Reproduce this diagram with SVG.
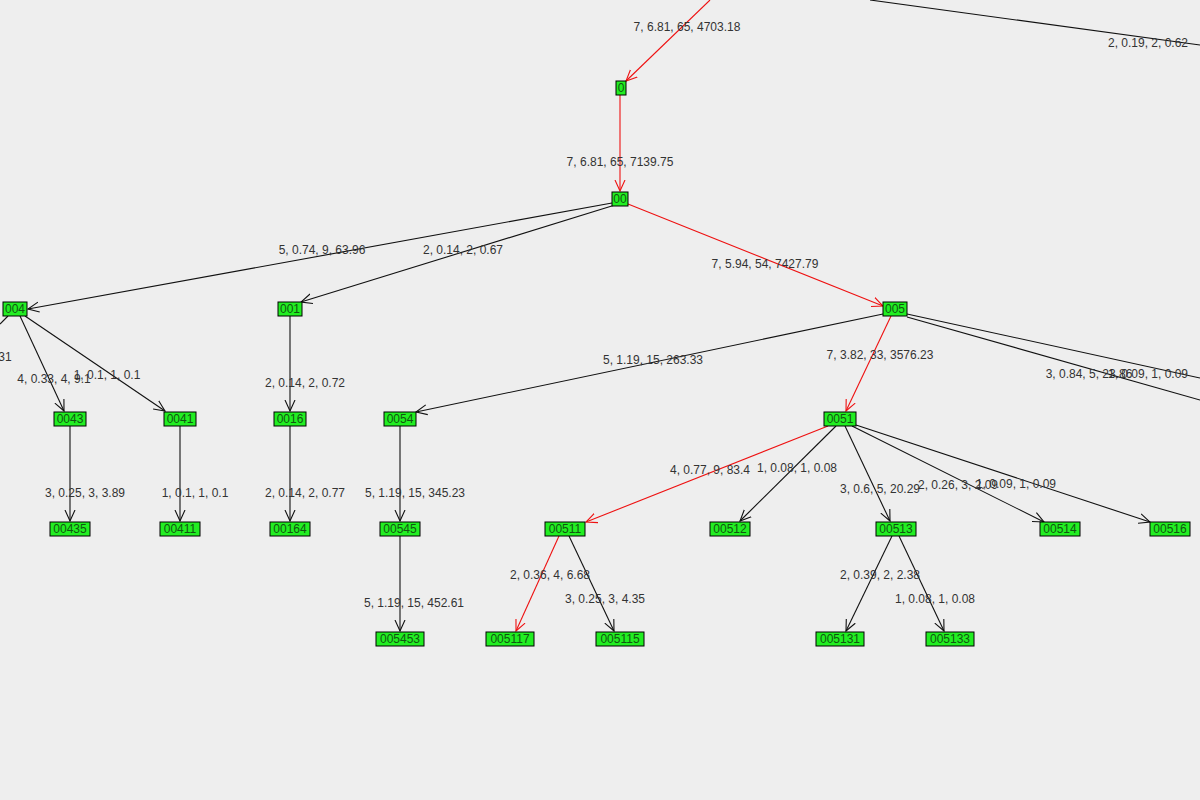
<svg xmlns="http://www.w3.org/2000/svg" width="1200" height="800" viewBox="0 0 1200 800">
<style>
.bg{fill:#eeeeee}
.n rect{fill:#22ee22;stroke:#000;stroke-width:1}
.n text{font-family:"Liberation Sans",Arial,sans-serif;font-size:12px;fill:#115511;text-anchor:middle}
.e line{stroke:#111;stroke-width:1.1;marker-end:url(#ab)}
.e line.r{stroke:#ee1111;marker-end:url(#ar)}
.l text{font-family:"Liberation Sans",Arial,sans-serif;font-size:12px;fill:#333;text-anchor:middle}
</style>
<defs>
<marker id="ab" viewBox="0 0 12 12" refX="11" refY="6" markerWidth="12" markerHeight="12" markerUnits="userSpaceOnUse" orient="auto"><path d="M0,1 L11,6 L0,11" fill="none" stroke="#111" stroke-width="1.1"/></marker>
<marker id="ar" viewBox="0 0 12 12" refX="11" refY="6" markerWidth="12" markerHeight="12" markerUnits="userSpaceOnUse" orient="auto"><path d="M0,1 L11,6 L0,11" fill="none" stroke="#ee1111" stroke-width="1.1"/></marker>
</defs>
<rect class="bg" width="1200" height="800"/>
<g id="connectors" class="e">
<line class="r" x1="710" y1="0" x2="626" y2="81"/>
<line x1="870" y1="0" x2="1200" y2="45" style="marker-end:none"/>
<line class="r" x1="620" y1="95" x2="620" y2="191"/>
<line x1="612" y1="203" x2="28" y2="309"/>
<line x1="615" y1="205" x2="301" y2="302"/>
<line class="r" x1="628" y1="204" x2="883" y2="306"/>
<line x1="8" y1="316" x2="0" y2="324" style="marker-end:none"/>
<line x1="20" y1="316" x2="64" y2="411"/>
<line x1="25" y1="316" x2="165" y2="411"/>
<line x1="290" y1="316" x2="290" y2="411"/>
<line x1="883" y1="314" x2="416" y2="412"/>
<line class="r" x1="891" y1="316" x2="846" y2="411"/>
<line x1="907" y1="314" x2="1200" y2="378" style="marker-end:none"/>
<line x1="907" y1="317" x2="1200" y2="400" style="marker-end:none"/>
<line x1="70" y1="426" x2="70" y2="521"/>
<line x1="180" y1="426" x2="180" y2="521"/>
<line x1="290" y1="426" x2="290" y2="521"/>
<line x1="400" y1="426" x2="400" y2="521"/>
<line class="r" x1="828" y1="426" x2="586" y2="522"/>
<line x1="836" y1="426" x2="740" y2="521"/>
<line x1="845" y1="426" x2="890" y2="521"/>
<line x1="852" y1="426" x2="1044" y2="522"/>
<line x1="856" y1="425" x2="1150" y2="522"/>
<line x1="400" y1="536" x2="400" y2="631"/>
<line class="r" x1="559" y1="536" x2="516" y2="631"/>
<line x1="569" y1="536" x2="614" y2="631"/>
<line x1="892" y1="536" x2="846" y2="631"/>
<line x1="899" y1="536" x2="944" y2="631"/>
</g>
<g id="labels" class="l">
<text x="687" y="31">7, 6.81, 65, 4703.18</text>
<text x="1148" y="47">2, 0.19, 2, 0.62</text>
<text x="620" y="166">7, 6.81, 65, 7139.75</text>
<text x="322" y="254">5, 0.74, 9, 63.96</text>
<text x="463" y="254">2, 0.14, 2, 0.67</text>
<text x="765" y="268">7, 5.94, 54, 7427.79</text>
<text x="5" y="361">31</text>
<text x="54" y="383">4, 0.33, 4, 9.1</text>
<text x="107" y="379">1, 0.1, 1, 0.1</text>
<text x="305" y="387">2, 0.14, 2, 0.72</text>
<text x="653" y="364">5, 1.19, 15, 263.33</text>
<text x="880" y="359">7, 3.82, 33, 3576.23</text>
<text x="1089" y="378">3, 0.84, 5, 23.86</text>
<text x="1148" y="378">1, 0.09, 1, 0.09</text>
<text x="85" y="497">3, 0.25, 3, 3.89</text>
<text x="195" y="497">1, 0.1, 1, 0.1</text>
<text x="305" y="497">2, 0.14, 2, 0.77</text>
<text x="415" y="497">5, 1.19, 15, 345.23</text>
<text x="710" y="474">4, 0.77, 9, 83.4</text>
<text x="797" y="472">1, 0.08, 1, 0.08</text>
<text x="880" y="493">3, 0.6, 5, 20.29</text>
<text x="958" y="489">2, 0.26, 3, 2.09</text>
<text x="1016" y="488">1, 0.09, 1, 0.09</text>
<text x="414" y="607">5, 1.19, 15, 452.61</text>
<text x="550" y="579">2, 0.36, 4, 6.68</text>
<text x="605" y="603">3, 0.25, 3, 4.35</text>
<text x="880" y="579">2, 0.39, 2, 2.38</text>
<text x="935" y="603">1, 0.08, 1, 0.08</text>
</g>
<g id="n0" class="n"><rect x="616" y="81" width="10" height="14"/><text x="621" y="92">0</text></g>
<g id="n00" class="n"><rect x="612" y="192" width="16" height="14"/><text x="620" y="203">00</text></g>
<g id="n004" class="n"><rect x="3" y="302" width="24" height="14"/><text x="15" y="313">004</text></g>
<g id="n001" class="n"><rect x="278" y="302" width="24" height="14"/><text x="290" y="313">001</text></g>
<g id="n005" class="n"><rect x="883" y="302" width="24" height="14"/><text x="895" y="313">005</text></g>
<g id="n0043" class="n"><rect x="54" y="412" width="32" height="14"/><text x="70" y="423">0043</text></g>
<g id="n0041" class="n"><rect x="164" y="412" width="32" height="14"/><text x="180" y="423">0041</text></g>
<g id="n0016" class="n"><rect x="274" y="412" width="32" height="14"/><text x="290" y="423">0016</text></g>
<g id="n0054" class="n"><rect x="384" y="412" width="32" height="14"/><text x="400" y="423">0054</text></g>
<g id="n0051" class="n"><rect x="824" y="412" width="32" height="14"/><text x="840" y="423">0051</text></g>
<g id="n00435" class="n"><rect x="50" y="522" width="40" height="14"/><text x="70" y="533">00435</text></g>
<g id="n00411" class="n"><rect x="160" y="522" width="40" height="14"/><text x="180" y="533">00411</text></g>
<g id="n00164" class="n"><rect x="270" y="522" width="40" height="14"/><text x="290" y="533">00164</text></g>
<g id="n00545" class="n"><rect x="380" y="522" width="40" height="14"/><text x="400" y="533">00545</text></g>
<g id="n00511" class="n"><rect x="545" y="522" width="40" height="14"/><text x="565" y="533">00511</text></g>
<g id="n00512" class="n"><rect x="710" y="522" width="40" height="14"/><text x="730" y="533">00512</text></g>
<g id="n00513" class="n"><rect x="876" y="522" width="40" height="14"/><text x="896" y="533">00513</text></g>
<g id="n00514" class="n"><rect x="1040" y="522" width="40" height="14"/><text x="1060" y="533">00514</text></g>
<g id="n00516" class="n"><rect x="1150" y="522" width="40" height="14"/><text x="1170" y="533">00516</text></g>
<g id="n005453" class="n"><rect x="376" y="632" width="48" height="14"/><text x="400" y="643">005453</text></g>
<g id="n005117" class="n"><rect x="486" y="632" width="48" height="14"/><text x="510" y="643">005117</text></g>
<g id="n005115" class="n"><rect x="596" y="632" width="48" height="14"/><text x="620" y="643">005115</text></g>
<g id="n005131" class="n"><rect x="816" y="632" width="48" height="14"/><text x="840" y="643">005131</text></g>
<g id="n005133" class="n"><rect x="926" y="632" width="48" height="14"/><text x="950" y="643">005133</text></g>
</svg>
